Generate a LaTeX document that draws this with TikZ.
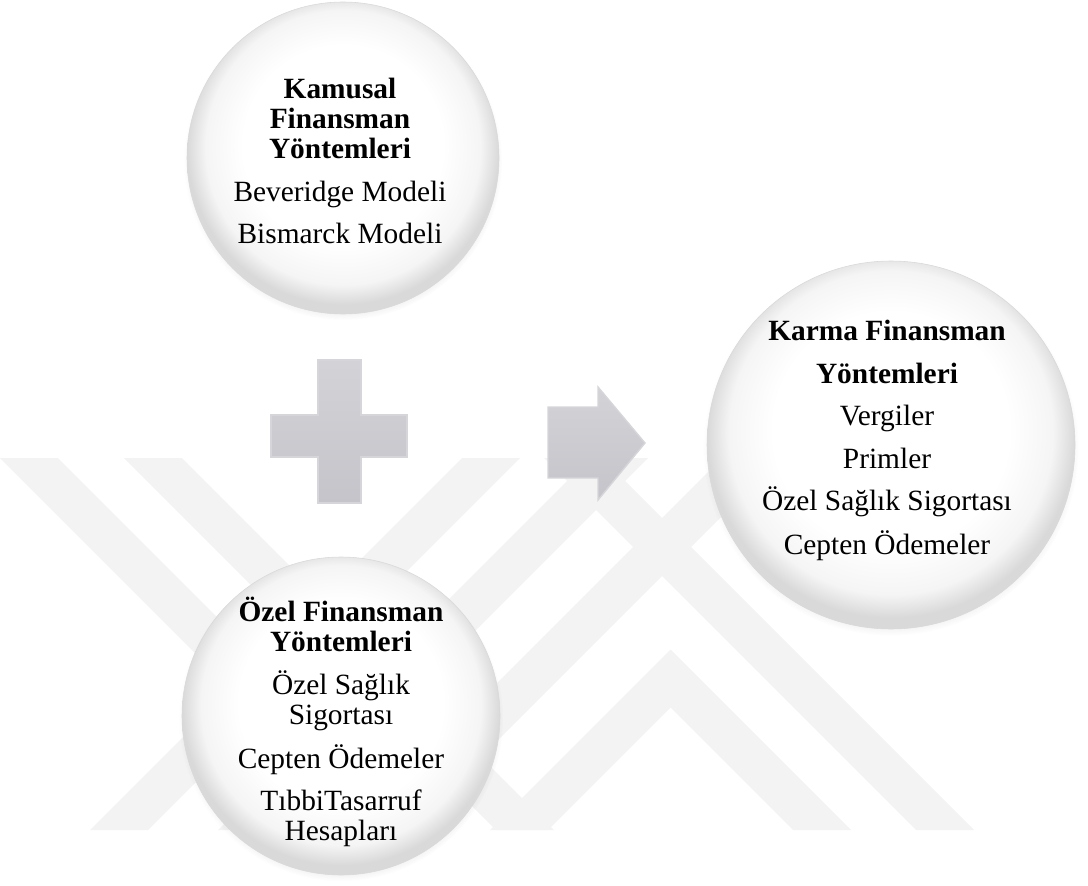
\documentclass[tikz,border=0pt]{standalone}
\usepackage{fontspec}
\setmainfont{Liberation Serif}
\usetikzlibrary{shadows}

\definecolor{wmgray}{HTML}{F3F3F3}
\definecolor{symgray}{HTML}{C4C4CA}
\definecolor{symedge}{HTML}{D6D6DA}

\pgfdeclareradialshading{glass}{\pgfpoint{0bp}{3bp}}{color(0bp)=(white); color(16bp)=(white); color(22bp)=(black!4); color(25bp)=(black!15); color(50bp)=(black!15)}

\tikzset{
  disc/.style={circle, draw=black!15, thin, shading=glass, inner sep=0pt,
    circular drop shadow={shadow xshift=0pt, shadow yshift=-2pt, shadow scale=1.02, opacity=.3}},
  txt/.style={align=center, inner sep=0pt, anchor=north, font=\fontsize{20.9}{21.3}\selectfont},
  band/.style={fill=wmgray},
  sym/.style={top color=symgray!75!white, bottom color=symgray, draw=symedge, line width=1pt}
}

\begin{document}
\begin{tikzpicture}
  \useasboundingbox (0,0) rectangle (27.2,22.125);

  % watermark
  \fill[band] (0,10.675) -- ++(1.45,0) -- ++(9.3,-9.3) -- ++(-1.45,0) -- cycle;
  \fill[band] (3.1,10.675) -- ++(1.45,0) -- ++(9.3,-9.3) -- ++(-1.45,0) -- cycle;
  \fill[band] (13.6,10.675) -- ++(1.45,0) -- ++(9.3,-9.3) -- ++(-1.45,0) -- cycle;
  \fill[band] (2.25,1.375) -- ++(1.45,0) -- ++(9.3,9.3) -- ++(-1.45,0) -- cycle;
  \fill[band] (5.45,1.375) -- ++(1.45,0) -- ++(9.3,9.3) -- ++(-1.45,0) -- cycle;
  \fill[band] (8.75,1.375) -- ++(1.45,0) -- ++(9.3,9.3) -- ++(-1.45,0) -- cycle;
  \fill[band] (12.25,1.375) -- (16.7625,5.8875) -- (21.275,1.375) -- (19.825,1.375) -- (16.7625,4.4375) -- (13.7,1.375) -- cycle;

  % circles
  \node[disc, minimum size=7.8cm] (kamusal) at (8.575,18.175) {};
  \node[disc, minimum size=9.2cm] (karma) at (22.275,11) {};
  \node[disc, minimum size=7.95cm] (ozel) at (8.525,4.225) {};

  \node[txt] (kamusal-txt) at (8.5,20.175) {\textbf{Kamusal}\\\textbf{Finansman}\\\textbf{Yöntemleri}\\[8.9pt]Beveridge Modeli\\[8.9pt]Bismarck Modeli};
  \node[txt] (karma-txt) at (22.175,14.125) {\textbf{Karma Finansman}\\[8.9pt]\textbf{Yöntemleri}\\[8.9pt]Vergiler\\[8.9pt]Primler\\[8.9pt]Özel Sağlık Sigortası\\[8.9pt]Cepten Ödemeler};
  \node[txt] (ozel-txt) at (8.525,7.2) {\textbf{Özel Finansman}\\\textbf{Yöntemleri}\\[8.9pt]Özel Sağlık\\Sigortası\\[8.9pt]Cepten Ödemeler\\[8.9pt]TıbbiTasarruf\\Hesapları};

  % plus
  \draw[sym] (7.95,13.125) -- (9.025,13.125) -- (9.025,11.75) -- (10.175,11.75) -- (10.175,10.7) -- (9.025,10.7) -- (9.025,9.55) -- (7.95,9.55) -- (7.95,10.7) -- (6.775,10.7) -- (6.775,11.75) -- (7.95,11.75) -- cycle;

  % arrow
  \draw[sym] (13.7,11.95) -- (14.95,11.95) -- (14.95,12.45) -- (16.125,11.05) -- (14.95,9.625) -- (14.95,10.175) -- (13.7,10.175) -- cycle;
\end{tikzpicture}
\end{document}
